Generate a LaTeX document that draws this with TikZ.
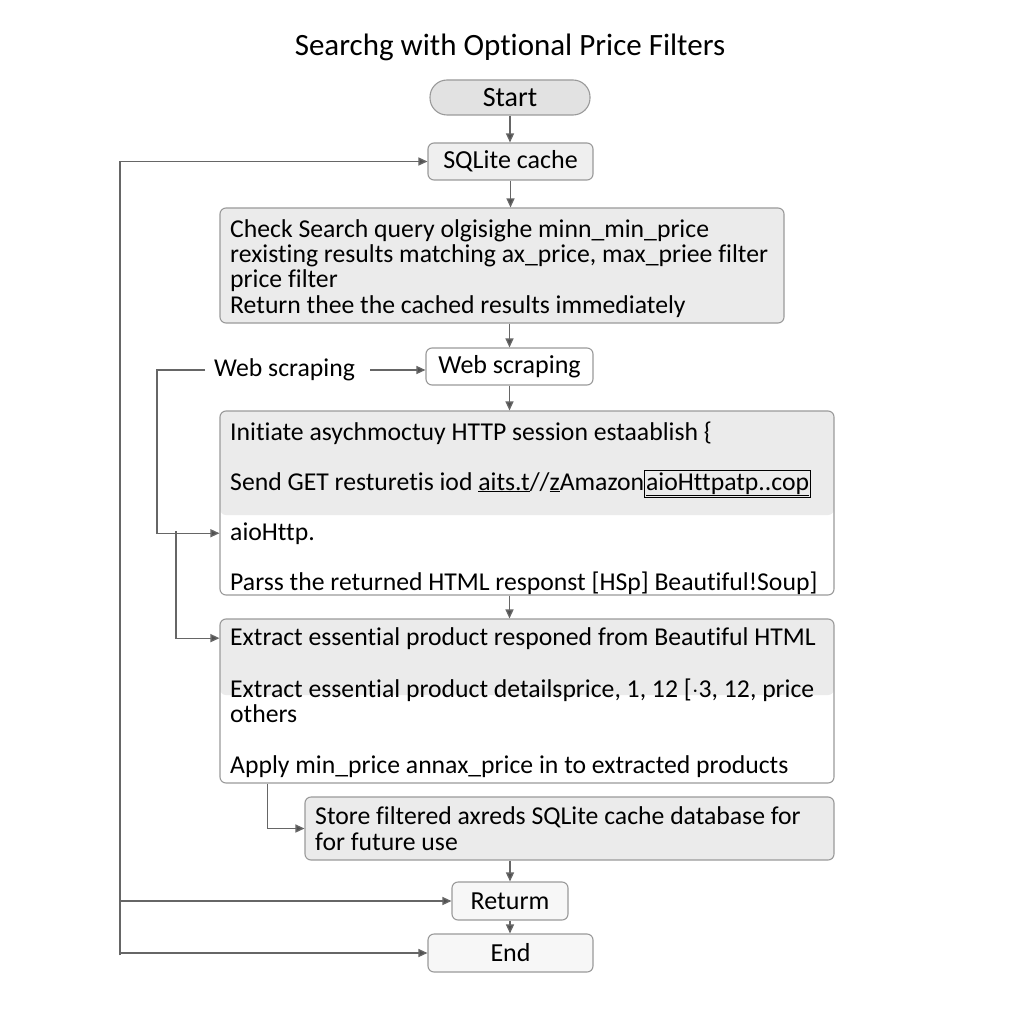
\documentclass[tikz,border=0pt]{standalone}
\usepackage{fontspec}
\setmainfont[Ligatures=CommonOff]{Carlito}
\usetikzlibrary{arrows.meta}
\definecolor{linec}{HTML}{666666}
\definecolor{arrc}{HTML}{505050}
\definecolor{boxc}{HTML}{9A9A9A}
\definecolor{g1}{HTML}{E2E2E2}
\definecolor{g2}{HTML}{EFEFEF}
\definecolor{g3}{HTML}{EBEBEB}
\definecolor{g4}{HTML}{F7F7F7}
\begin{document}
\begin{tikzpicture}[x=1pt,y=-1pt,
  line/.style={draw=linec, line width=1.3pt},
  arr/.style={line, -{Triangle[length=9pt,width=8pt,fill=arrc]}},
  box/.style={draw=boxc, line width=1.1pt, rounded corners=6pt, inner sep=0pt,
     font=\fontsize{26}{25}\selectfont},
  txt/.style={anchor=base west, inner sep=0pt, font=\fontsize{25.7}{25}\selectfont},
  ]
\useasboundingbox[fill=white] (0,0) rectangle (1024,1024);

\node[font=\fontsize{31}{32}\selectfont, inner sep=0pt] (title) at (510,47) {Searchg with Optional Price Filters};

\node[box, fill=g1, rounded corners=17pt, minimum width=160pt, minimum height=35pt, font=\fontsize{28}{28}\selectfont] (start) at (510,97.5) {Start};
\node[box, fill=g2, minimum width=165pt, minimum height=37pt] (sqlite) at (510.5,161.5) {SQLite cache};

\node[box, fill=g3, minimum width=564pt, minimum height=115pt] (check) at (502,265.5) {};
\node[txt] (c1) at (230,237) {Check Search query olgisighe minn\_min\_price};
\node[txt] (c2) at (230,262) {rexisting results matching ax\_price, max\_priee filter};
\node[txt] (c3) at (230,287) {price filter};
\node[txt] (c4) at (230,313) {Return thee the cached results immediately};

\node[txt, anchor=west] (wl) at (214,370) {Web scraping};
\node[box, fill=white, minimum width=167pt, minimum height=37pt] (web) at (509.5,366.5) {Web scraping};

\node[box, fill=white, minimum width=614pt, minimum height=184pt,
  path picture={\fill[g3] (path picture bounding box.north west) rectangle ([yshift=-104pt]path picture bounding box.north east);}] (b2) at (527,503) {};
\node[txt] (s1) at (230,440) {Initiate asychmoctuy HTTP session estaablish \{};
\node[txt] (s2) at (230,490) {Send GET resturetis iod \underline{aits.t}//\underline{z}Amazon{\setlength{\fboxsep}{1pt}\setlength{\fboxrule}{1pt}\fbox{\underline{aioHttpatp..cop}}}};
\node[txt] (aio) at (230,540) {aioHttp.};
\node[txt] (s4) at (230,590) {Parss the returned HTML responst [HSp] Beautiful!Soup]};

\node[box, fill=white, minimum width=614pt, minimum height=164pt,
  path picture={\fill[g3] (path picture bounding box.north west) rectangle ([yshift=-76pt]path picture bounding box.north east);}] (b3) at (527,701) {};
\node[txt] (e1) at (230,645) {Extract essential product responed from Beautiful HTML};
\node[txt] (e2) at (230,697) {Extract essential product detailsprice, 1, 12 [$\cdot$3, 12, price};
\node[txt] (e3) at (230,722) {others};
\node[txt] (e4) at (230,773) {Apply min\_price annax\_price in to extracted products};

\node[box, fill=g3, minimum width=529pt, minimum height=63pt] (store) at (569.5,828.5) {};
\node[txt] (t1) at (315,824) {Store filtered axreds SQLite cache database for};
\node[txt] (t2) at (315,850) {for future use};

\node[box, fill=g4, minimum width=116pt, minimum height=38pt] (ret) at (510,901) {Returm};
\node[box, fill=g4, minimum width=165pt, minimum height=38pt] (endn) at (510.5,953) {End};

% connectors
\draw[arr] (start.south) -- (sqlite.north -| start.south);
\draw[arr] (sqlite.south) -- (check.north -| sqlite.south);
\draw[arr] (check.south -| web.north) -- (web.north);
\draw[arr, shorten <=15pt] (wl.east) -- (wl.east -| web.west);
\draw[arr] (web.south) -- (b2.north -| web.south);
\draw[arr, shorten <=9pt] (wl.west) -- ++(-57,0) |- (aio.west -| b2.west);
\coordinate (j1) at (176,531);
\draw[arr] (j1) |- (e1.west -| b3.west);
\draw[arr] (b2.south -| web.south) -- (b3.north -| web.south);
\draw[arr] ([xshift=48pt]b3.south west) |- (store.west);
\draw[arr] (store.south -| ret.north) -- (ret.north);
\draw[arr] (ret.south) -- (endn.north -| ret.south);
\coordinate (o1) at (120,955);
\draw[arr] (o1) |- (sqlite.west);
\draw[arr] (o1) |- (endn.west);
\draw[arr] (o1 |- ret.west) -- (ret.west);
\end{tikzpicture}
\end{document}
